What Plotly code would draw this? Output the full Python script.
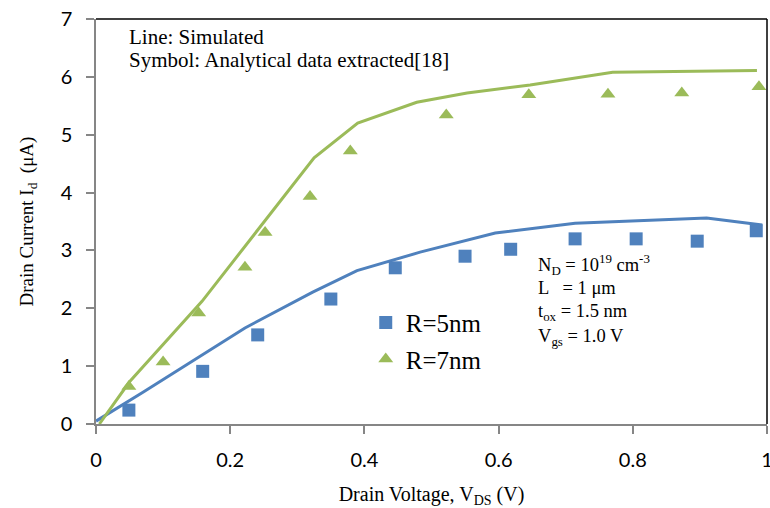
import plotly.graph_objects as go

# Simulated (lines)
sim5_x = [0.0, 0.07, 0.222, 0.323, 0.389, 0.483, 0.595, 0.714, 0.91, 0.993]
sim5_y = [0.05, 0.55, 1.66, 2.28, 2.65, 2.97, 3.30, 3.47, 3.56, 3.44]
sim7_x = [0.005, 0.05, 0.158, 0.267, 0.325, 0.39, 0.478, 0.553, 0.647, 0.77, 0.985]
sim7_y = [0.0, 0.73, 2.12, 3.75, 4.6, 5.2, 5.56, 5.72, 5.86, 6.08, 6.11]

# Analytical (symbols)
ana5_x = [0.049, 0.159, 0.241, 0.350, 0.446, 0.550, 0.618, 0.714, 0.805, 0.896, 0.984]
ana5_y = [0.24, 0.91, 1.54, 2.16, 2.70, 2.90, 3.02, 3.20, 3.20, 3.16, 3.34]
ana7_x = [0.049, 0.100, 0.153, 0.222, 0.252, 0.319, 0.379, 0.522, 0.645, 0.763, 0.873, 0.988]
ana7_y = [0.65, 1.07, 1.92, 2.71, 3.31, 3.93, 4.72, 5.34, 5.69, 5.70, 5.72, 5.83]

x_ticks = [0, 0.2, 0.4, 0.6, 0.8, 1]
x_tick_labels = ["0", "0.2", "0.4", "0.6", "0.8", "1"]
y_ticks = [0, 1, 2, 3, 4, 5, 6, 7]

note_lines = ["Line: Simulated", "Symbol: Analytical data extracted[18]"]
param_lines = ["N<sub>D</sub> = 10<sup>19</sup> cm<sup>-3</sup>",
               "L \u00a0 = 1 \u03bcm",
               "t<sub>ox</sub> = 1.5 nm",
               "V<sub>gs</sub> = 1.0 V"]

BLUE = "#4F81BD"
GREEN = "#9BBB59"
SERIF = "Liberation Serif, Times New Roman, serif"
SANS = "Lato, Carlito, Calibri, sans-serif"

fig = go.Figure()
fig.add_trace(go.Scatter(x=sim5_x, y=sim5_y, mode="lines",
                         line=dict(color=BLUE, width=3), showlegend=False))
fig.add_trace(go.Scatter(x=sim7_x, y=sim7_y, mode="lines",
                         line=dict(color=GREEN, width=3), showlegend=False))
fig.add_trace(go.Scatter(x=ana5_x, y=ana5_y, mode="markers", name="R=5nm",
                         legendgroup="a",
                         marker=dict(symbol="square", size=13, color=BLUE)))
fig.add_trace(go.Scatter(x=ana7_x, y=ana7_y, mode="markers", name="R=7nm",
                         legendgroup="b",
                         marker=dict(symbol="triangle-up", size=13, color=GREEN)))

annotations = []
for t, yp in zip(note_lines, [0.956, 0.899]):
    annotations.append(dict(xref="paper", yref="paper", x=0.046, y=yp,
                            xanchor="left", yanchor="middle", showarrow=False,
                            text=t, font=dict(family=SERIF, size=21, color="black")))
for t, yp in zip(param_lines, [0.393, 0.336, 0.275, 0.214]):
    annotations.append(dict(xref="paper", yref="paper", x=0.655, y=yp,
                            xanchor="left", yanchor="middle", showarrow=False,
                            text=t, font=dict(family=SERIF, size=18.5, color="black")))

fig.update_layout(
    width=770, height=508,
    margin=dict(l=96, r=3, t=19, b=84, autoexpand=False),
    paper_bgcolor="white", plot_bgcolor="white",
    showlegend=True,
    legend=dict(x=0.402, y=0.307, xanchor="left", yanchor="top",
                font=dict(family=SERIF, size=25, color="black"),
                bgcolor="rgba(0,0,0,0)", tracegroupgap=1,
                itemwidth=30),
    xaxis=dict(range=[0, 1], tickvals=x_ticks, ticktext=x_tick_labels,
               showgrid=False, zeroline=False, showline=True,
               linecolor="#868686", linewidth=1.5,
               ticks="outside", ticklen=8, tickcolor="#868686", tickwidth=1.5,
               ticklabelstandoff=9, ticklabeloverflow="allow",
               tickfont=dict(family=SANS, size=20, color="black"),
               title=dict(text="Drain Voltage, V<sub>DS</sub> (V)",
                          font=dict(family=SERIF, size=20, color="black"),
                          standoff=22)),
    yaxis=dict(range=[0, 7], tickvals=y_ticks,
               showgrid=False, zeroline=False, showline=True,
               linecolor="#868686", linewidth=1.5,
               ticks="outside", ticklen=8, tickcolor="#868686", tickwidth=1.5,
               ticklabelstandoff=10,
               tickfont=dict(family=SANS, size=20, color="black"),
               title=dict(text="Drain Current I<sub>d</sub> \u00a0(\u03bcA)",
                          font=dict(family=SERIF, size=19, color="black"),
                          standoff=22)),
    shapes=[
        dict(type="line", xref="paper", yref="paper", x0=0, x1=1, y0=1, y1=1,
             line=dict(color="black", width=1.5)),
        dict(type="line", xref="paper", yref="paper", x0=1, x1=1, y0=0, y1=1,
             line=dict(color="black", width=1.5)),
    ],
    annotations=annotations,
)

fig.write_html("out.html")
